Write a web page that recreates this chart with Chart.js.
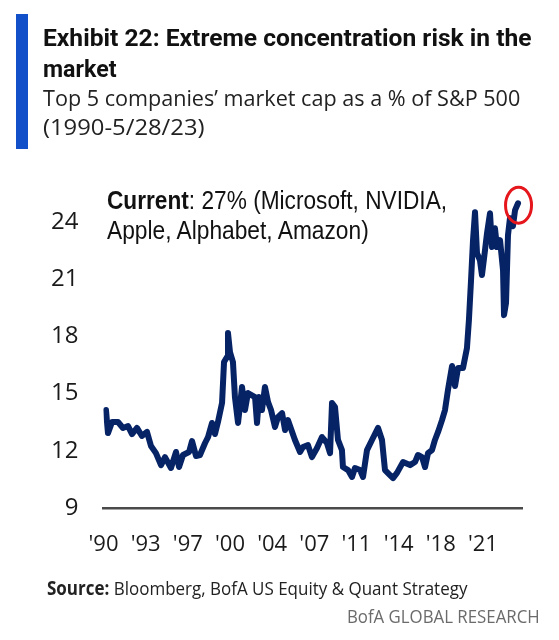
<!DOCTYPE html>
<html>
<head>
<meta charset="utf-8">
<script src="https://cdn.jsdelivr.net/npm/chart.js@4"></script>
<style>
  html, body { margin: 0; padding: 0; background: #fff; }
  #wrap { position: relative; width: 559px; height: 640px; overflow: hidden; }
  #chartBox { position: absolute; left: 0; top: 0; width: 559px; height: 640px; }
  .t { position: absolute; white-space: nowrap; display: inline-block; transform-origin: left top; line-height: 1; }
  #bar { position: absolute; left: 16px; top: 14px; width: 12px; height: 135px; background: #1150c8; }
  .title { font-family: Roboto, "Open Sans", sans-serif; font-weight: 700; font-size: 23.5px; color: #111; }
  .sub { font-family: "Open Sans", sans-serif; font-weight: 400; font-size: 21px; color: #222; }
  .ann { font-family: "Liberation Sans Narrow", "Liberation Sans", Arial, sans-serif; font-size: 25px; color: #111; }
  .src { font-family: "Open Sans", sans-serif; font-size: 19px; color: #222; }
  .brand { font-family: "Open Sans", sans-serif; font-size: 19px; color: #6b6b6b; transform-origin: right top; }
</style>
</head>
<body>
<div id="wrap">
  <div id="chartBox"><canvas id="c"></canvas></div>
  <div id="bar"></div>
  <div class="t title" id="t1" style="left:43px; top:27px;">Exhibit 22: Extreme concentration risk in the</div>
  <div class="t title" id="t2" style="left:43px; top:58px;">market</div>
  <div class="t sub" id="s1" style="left:43px; top:88px;">Top 5 companies’ market cap as a % of S&amp;P 500</div>
  <div class="t sub" id="s2" style="left:43px; top:117px;">(1990-5/28/23)</div>
  <div class="t ann" id="a1" style="left:107px; top:188px;"><b>Current</b>: 27% (Microsoft, NVIDIA,</div>
  <div class="t ann" id="a2" style="left:107px; top:218px;">Apple, Alphabet, Amazon)</div>
  <div class="t src" id="src" style="left:47px; top:579px;"><b>Source:</b> Bloomberg, BofA US Equity &amp; Quant Strategy</div>
  <div class="t brand" id="brand" style="right:19px; top:607px;">BofA GLOBAL RESEARCH</div>
</div>
<script>
// ---- data ----
const years = [
  1990.2, 1990.36, 1990.69, 1991.17, 1991.57, 1991.98, 1992.3, 1992.7, 1993.1, 1993.51,
  1993.83, 1994.23, 1994.64, 1994.96, 1995.44, 1995.85, 1996.09, 1996.41, 1996.9, 1997.14,
  1997.46, 1997.78, 1998.19, 1998.43, 1998.75, 1998.99, 1999.23, 1999.56, 1999.72, 1999.96,
  2000.04, 2000.2, 2000.44, 2000.6, 2000.85, 2001.17, 2001.41, 2001.65, 2002.22, 2002.38,
  2002.54, 2002.78, 2003.02, 2003.27, 2003.51, 2003.83, 2004.07, 2004.4, 2004.64, 2004.88,
  2005.44, 2005.85, 2006.09, 2006.49, 2006.81, 2007.22, 2007.62, 2008.02, 2008.27, 2008.43,
  2008.67, 2008.91, 2009.23, 2009.31, 2009.72, 2010.04, 2010.28, 2010.69, 2010.93, 2011.25,
  2011.65, 2012.14, 2012.46, 2012.7, 2013.1, 2013.35, 2013.67, 2014.15, 2014.72, 2015.12,
  2015.36, 2015.69, 2015.93, 2016.17, 2016.49, 2016.73, 2016.98, 2017.3, 2017.54, 2017.78,
  2018.11, 2018.35, 2018.59, 2018.99, 2019.31, 2019.47, 2019.64, 2019.8, 2019.96, 2020.12,
  2020.36, 2020.52, 2020.69, 2020.93, 2021.17, 2021.33, 2021.57, 2021.73, 2021.98, 2022.22,
  2022.3, 2022.46, 2022.62, 2022.78, 2023.02, 2023.19, 2023.43
];
const shares = [
  14.14, 12.93, 13.51, 13.51, 13.20, 13.30, 12.88, 13.20, 12.78, 12.99,
  12.25, 11.88, 11.25, 11.67, 11.10, 11.94, 11.15, 11.78, 11.94, 12.51,
  11.73, 11.78, 12.41, 12.72, 13.46, 12.88, 13.51, 14.51, 16.66, 16.92,
  18.18, 17.18, 16.66, 14.82, 13.46, 15.35, 14.14, 15.03, 14.82, 13.46,
  14.82, 14.14, 15.35, 14.56, 14.14, 13.25, 13.77, 13.98, 13.09, 13.61,
  12.57, 11.94, 12.20, 12.30, 11.67, 12.15, 12.72, 12.41, 11.88, 14.51,
  14.30, 12.57, 12.04, 11.15, 10.99, 10.63, 11.10, 10.99, 10.63, 12.04,
  12.57, 13.20, 12.57, 10.99, 10.73, 10.57, 10.84, 11.41, 11.25, 11.41,
  11.78, 11.67, 11.15, 11.88, 12.04, 12.57, 12.99, 13.61, 14.14, 15.19,
  16.45, 15.40, 16.34, 16.34, 17.39, 18.86, 20.96, 23.05, 24.52, 22.37,
  22.00, 21.22, 22.11, 23.42, 24.47, 22.69, 23.68, 22.69, 23.05, 21.48,
  19.12, 19.75, 23.32, 24.21, 23.79, 24.63, 24.99
];
const xTickYears = [1990, 1993.4, 1996.8, 2000.2, 2003.6, 2007, 2010.4, 2013.8, 2017.2, 2020.6];
const xTickLabels = ["'90", "'93", "'97", "'00", "'04", "'07", "'11", "'14", "'18", "'21"];
const yTickValues = [9, 12, 15, 18, 21, 24];

const points = years.map((x, i) => ({ x: x, y: shares[i] }));

const circlePlugin = {
  id: 'lastCircle',
  afterDatasetsDraw(chart) {
    const meta = chart.getDatasetMeta(0);
    const p = meta.data[meta.data.length - 1];
    if (!p) return;
    const ctx = chart.ctx;
    ctx.save();
    ctx.beginPath();
    ctx.ellipse(p.x + 0.5, p.y + 2, 13, 18, 0, 0, Math.PI * 2);
    ctx.strokeStyle = '#e5161c';
    ctx.lineWidth = 3;
    ctx.stroke();
    ctx.restore();
  }
};

new Chart(document.getElementById('c'), {
  type: 'line',
  data: {
    datasets: [{
      data: points,
      borderColor: '#062366',
      borderWidth: 6,
      pointRadius: 0,
      tension: 0,
      borderJoinStyle: 'round',
      borderCapStyle: 'round',
      fill: false
    }]
  },
  options: {
    responsive: true,
    maintainAspectRatio: false,
    animation: false,
    devicePixelRatio: 1,
    layout: { padding: { top: 184, right: 37, bottom: 0, left: 0 } },
    plugins: { legend: { display: false }, tooltip: { enabled: false } },
    scales: {
      x: {
        type: 'linear',
        min: 1990,
        max: 2023.75,
        grid: { display: false, drawTicks: false },
        border: { display: true, color: '#4a4a4a', width: 2.5 },
        afterBuildTicks(axis) { axis.ticks = xTickYears.map(v => ({ value: v })); },
        afterFit(axis) { axis.height = 132; },
        ticks: {
          autoSkip: false,
          maxRotation: 0,
          padding: 24,
          color: '#1a1a1a',
          font: { family: 'Open Sans', size: 22 },
          callback(value, index) { return xTickLabels[index]; }
        }
      },
      y: {
        min: 9,
        max: 26,
        grid: { display: false, drawTicks: false },
        border: { display: false },
        afterBuildTicks(axis) { axis.ticks = yTickValues.map(v => ({ value: v })); },
        afterFit(axis) { axis.width = 103.5; },
        ticks: {
          padding: 25,
          color: '#1a1a1a',
          font: { family: 'Open Sans', size: 24 },
          callback(value) { return String(value); }
        }
      }
    }
  },
  plugins: [circlePlugin]
});

// scale text horizontally to the reference widths (offsetWidth ignores transforms)
function fit(id, w) {
  const el = document.getElementById(id);
  const nat = el.offsetWidth;
  if (nat > 0) el.style.transform = 'scaleX(' + (w / nat) + ')';
}
function fitAll() {
  fit('t1', 489);
  fit('t2', 74);
  fit('s1', 477);
  fit('s2', 162);
  fit('a1', 340);
  fit('a2', 262);
  fit('src', 420);
  fit('brand', 193);
}
fitAll();
if (document.fonts && document.fonts.ready) { document.fonts.ready.then(fitAll); }
</script>
</body>
</html>
